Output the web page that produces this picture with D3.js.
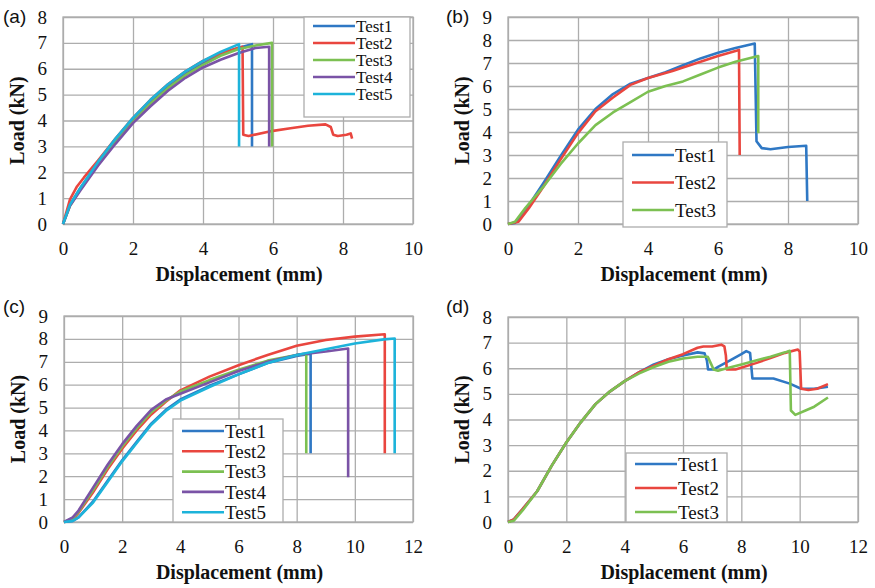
<!DOCTYPE html>
<html>
<head>
<meta charset="utf-8">
<script src="https://cdn.jsdelivr.net/npm/d3@7"></script>
<style>
  body { margin: 0; background: #fff; }
  svg { display: block; }
</style>
</head>
<body>
<svg id="chart" width="875" height="588"></svg>
<script>
// ---- data (displacement mm, load kN) ----
const testNames = ["Test1", "Test2", "Test3", "Test4", "Test5"];
const testColors = ["#2f78c4", "#e9463f", "#7cc052", "#7a53a6", "#1db3da"];

// panel (a)
const a_test1 = [[0,0],[0.2,0.75],[0.5,1.4],[1,2.35],[1.5,3.2],[2,4.0],[2.5,4.7],[3,5.3],[3.5,5.8],[4,6.2],[4.5,6.55],[5,6.8],[5.4,6.95],[5.4,3.0]];
const a_test2 = [[0,0],[0.2,0.95],[0.4,1.45],[0.6,1.8],[1,2.45],[1.5,3.3],[2,4.1],[2.5,4.8],[3,5.4],[3.5,5.9],[4,6.3],[4.5,6.6],[5,6.8],[5.13,6.85],[5.15,3.45],[5.3,3.4],[6,3.6],[6.5,3.7],[7,3.8],[7.5,3.85],[7.65,3.75],[7.72,3.45],[7.85,3.4],[8.1,3.45],[8.22,3.5],[8.26,3.3]];
const a_test3 = [[0,0],[0.2,0.7],[0.5,1.35],[1,2.3],[1.5,3.15],[2,3.95],[2.5,4.65],[3,5.25],[3.5,5.75],[4,6.15],[4.5,6.5],[5,6.75],[5.5,6.9],[5.97,7.0],[5.97,3.0]];
const a_test4 = [[0,0],[0.2,0.7],[0.5,1.3],[1,2.25],[1.5,3.1],[2,3.9],[2.5,4.55],[3,5.15],[3.5,5.65],[4,6.05],[4.5,6.35],[5,6.6],[5.5,6.8],[5.89,6.85],[5.89,3.0]];
const a_test5 = [[0,0],[0.2,0.75],[0.5,1.4],[1,2.4],[1.5,3.3],[2,4.1],[2.5,4.8],[3,5.4],[3.5,5.9],[4,6.3],[4.5,6.65],[5.03,6.95],[5.03,3.0]];

// panel (b)
const b_test1 = [[0,0],[0.2,0.05],[0.5,0.6],[1,1.75],[1.5,2.95],[2,4.1],[2.5,5.0],[3,5.65],[3.5,6.1],[4,6.35],[4.5,6.6],[5,6.9],[5.5,7.2],[6,7.45],[6.5,7.65],[7.05,7.85],[7.1,3.6],[7.25,3.3],[7.5,3.25],[8,3.35],[8.52,3.4],[8.55,1.0]];
const b_test2 = [[0,0],[0.3,0.1],[0.6,0.7],[1,1.6],[1.5,2.8],[2,3.95],[2.5,4.9],[3,5.5],[3.5,6.05],[4,6.35],[4.7,6.65],[5,6.8],[5.5,7.05],[6,7.3],[6.6,7.57],[6.62,3.0]];
const b_test3 = [[0,0],[0.2,0.1],[0.5,0.7],[1,1.6],[1.5,2.6],[2,3.5],[2.5,4.3],[3,4.85],[3.5,5.3],[4,5.75],[4.5,6.0],[5,6.2],[5.5,6.5],[6,6.8],[6.5,7.05],[7.15,7.3],[7.15,3.95]];

// panel (c)
const c_test1 = [[0,0],[0.3,0.05],[0.5,0.2],[1,0.9],[1.5,1.8],[2,2.7],[2.5,3.5],[3,4.3],[3.5,4.9],[4,5.35],[5,5.95],[6,6.45],[7,6.95],[8,7.25],[8.48,7.35],[8.48,3.0]];
const c_test2 = [[0,0],[0.3,0.1],[0.5,0.4],[1,1.3],[1.5,2.3],[2,3.2],[2.5,4.0],[3,4.7],[3.5,5.25],[4,5.75],[5,6.35],[6,6.85],[7,7.3],[8,7.7],[9,7.95],[10,8.1],[11.03,8.2],[11.03,3.0]];
const c_test3 = [[0,0],[0.3,0.15],[0.5,0.45],[1,1.4],[1.5,2.4],[2,3.3],[2.5,4.1],[3,4.8],[3.5,5.3],[4,5.7],[5,6.2],[6,6.65],[7,7.05],[8,7.3],[8.33,7.35],[8.33,3.0]];
const c_test4 = [[0,0],[0.3,0.2],[0.5,0.5],[1,1.5],[1.5,2.5],[2,3.4],[2.5,4.2],[3,4.9],[3.5,5.35],[4,5.6],[5,6.1],[6,6.6],[7,7.0],[8,7.3],[9,7.45],[9.77,7.58],[9.77,1.95]];
const c_test5 = [[0,0],[0.3,0.05],[0.5,0.2],[1,0.85],[1.5,1.75],[2,2.65],[2.5,3.45],[3,4.25],[3.5,4.85],[4,5.3],[5,5.9],[6,6.45],[7,6.95],[8,7.3],[9,7.55],[10,7.8],[11,7.98],[11.37,8.02],[11.37,3.0]];

// panel (d)
const d_test1 = [[0,0],[0.2,0.1],[0.5,0.5],[1,1.2],[1.5,2.2],[2,3.1],[2.5,3.9],[3,4.6],[3.5,5.1],[4,5.5],[4.5,5.85],[5,6.15],[5.5,6.35],[6,6.5],[6.5,6.62],[6.74,6.58],[6.82,6.3],[6.86,5.95],[7.05,5.95],[7.2,6.05],[7.6,6.3],[8.0,6.55],[8.17,6.67],[8.3,6.6],[8.38,5.6],[8.7,5.6],[9.1,5.6],[9.66,5.4],[10.05,5.2],[10.5,5.2],[10.97,5.28]];
const d_test2 = [[0,0],[0.2,0.1],[0.5,0.5],[1,1.2],[1.5,2.2],[2,3.1],[2.5,3.9],[3,4.6],[3.5,5.1],[4,5.5],[4.5,5.85],[5,6.1],[5.5,6.35],[6,6.55],[6.5,6.8],[6.7,6.85],[7.0,6.85],[7.31,6.92],[7.42,6.85],[7.47,6.5],[7.5,5.95],[7.8,5.95],[8.5,6.2],[9,6.4],[9.5,6.6],[9.94,6.73],[10.0,6.65],[10.05,5.2],[10.3,5.15],[10.6,5.2],[10.97,5.38]];
const d_test3 = [[0,0],[0.2,0.05],[0.5,0.45],[1,1.2],[1.5,2.2],[2,3.1],[2.5,3.9],[3,4.6],[3.5,5.1],[4,5.5],[4.5,5.8],[5,6.05],[5.5,6.25],[6,6.38],[6.5,6.45],[6.85,6.45],[6.95,6.2],[7.05,5.95],[7.2,5.9],[7.5,6.0],[8,6.15],[8.5,6.3],[9,6.45],[9.5,6.62],[9.66,6.68],[9.7,4.35],[9.85,4.18],[10.2,4.35],[10.5,4.5],[10.97,4.86]];

const panels = [
  { tag: "(a)", tagX: 3, tagY: 23, left: 63, right: 413, top: 17, bottom: 224, xMax: 10, yMax: 8,
    series: [a_test1, a_test2, a_test3, a_test4, a_test5],
    legend: { x: 304, y: 17, w: 106, h: 100, row0: 26, dy: 17, font: 17 } },
  { tag: "(b)", tagX: 446, tagY: 23, left: 508, right: 858, top: 17, bottom: 224, xMax: 10, yMax: 9,
    series: [b_test1, b_test2, b_test3],
    legend: { x: 623, y: 142, w: 104, h: 85, row0: 155, dy: 27.5, font: 19 } },
  { tag: "(c)", tagX: 3, tagY: 313, left: 64, right: 413, top: 316, bottom: 522, xMax: 12, yMax: 9,
    series: [c_test1, c_test2, c_test3, c_test4, c_test5],
    legend: { x: 173, y: 419, w: 110, h: 103, row0: 431, dy: 20.3, font: 19 } },
  { tag: "(d)", tagX: 446, tagY: 313, left: 508, right: 858, top: 317, bottom: 522, xMax: 12, yMax: 8,
    series: [d_test1, d_test2, d_test3],
    legend: { x: 626, y: 453, w: 101, h: 69, row0: 464, dy: 24, font: 19 } }
];

const svg = d3.select("#chart");
const serif = "'Liberation Serif', 'Times New Roman', serif";
const gridColor = "#adadad";

panels.forEach((p) => {
  const x = d3.scaleLinear().domain([0, p.xMax]).range([p.left, p.right]);
  const y = d3.scaleLinear().domain([0, p.yMax]).range([p.bottom, p.top]);
  const g = svg.append("g");

  // grid + ticks
  const gx = g.append("g")
    .attr("transform", `translate(0,${p.bottom})`)
    .call(d3.axisBottom(x).ticks(p.xMax / 2).tickSize(-(p.bottom - p.top)).tickPadding(18).tickFormat(d3.format("d")));
  const gy = g.append("g")
    .attr("transform", `translate(${p.left},0)`)
    .call(d3.axisLeft(y).ticks(p.yMax).tickSize(-(p.right - p.left)).tickPadding(16).tickFormat(d3.format("d")));
  [gx, gy].forEach((ax) => {
    ax.select(".domain").remove();
    ax.selectAll(".tick line").attr("stroke", gridColor).attr("stroke-width", 1.3);
    ax.selectAll(".tick text").attr("fill", "#111").style("font-family", serif).style("font-size", "19px");
  });

  // plot border
  g.append("rect")
    .attr("x", p.left).attr("y", p.top)
    .attr("width", p.right - p.left).attr("height", p.bottom - p.top)
    .attr("fill", "none").attr("stroke", gridColor).attr("stroke-width", 1.3);

  // curves
  const line = d3.line().x((d) => x(d[0])).y((d) => y(d[1]));
  p.series.forEach((s, i) => {
    g.append("path").datum(s)
      .attr("fill", "none")
      .attr("stroke", testColors[i])
      .attr("stroke-width", 2.6)
      .attr("stroke-linejoin", "round")
      .attr("d", line);
  });

  // legend
  const L = p.legend;
  const lg = g.append("g");
  lg.append("rect")
    .attr("x", L.x).attr("y", L.y).attr("width", L.w).attr("height", L.h)
    .attr("fill", "#fff").attr("stroke", gridColor).attr("stroke-width", 1.3);
  p.series.forEach((s, i) => {
    const ly = L.row0 + i * L.dy;
    lg.append("line")
      .attr("x1", L.x + 9).attr("x2", L.x + 51).attr("y1", ly).attr("y2", ly)
      .attr("stroke", testColors[i]).attr("stroke-width", 2.6);
    lg.append("text")
      .attr("x", L.x + 52).attr("y", ly).attr("dy", "0.35em")
      .style("font-family", serif).style("font-size", L.font + "px").attr("fill", "#111")
      .text(testNames[i]);
  });

  // axis titles
  g.append("text")
    .attr("x", (p.left + p.right) / 2 + 1).attr("y", p.bottom + 57)
    .attr("text-anchor", "middle")
    .style("font-family", serif).style("font-size", "20px").style("font-weight", "bold").attr("fill", "#111")
    .text("Displacement (mm)");
  g.append("text")
    .attr("transform", `translate(${p.left - 46},${(p.top + p.bottom) / 2}) rotate(-90)`)
    .attr("text-anchor", "middle").attr("dy", "0.35em")
    .style("font-family", serif).style("font-size", "20px").style("font-weight", "bold").attr("fill", "#111")
    .text("Load (kN)");

  // panel tag
  g.append("text")
    .attr("x", p.tagX).attr("y", p.tagY)
    .style("font-family", "'Liberation Sans', Arial, sans-serif").style("font-size", "19px").attr("fill", "#111")
    .text(p.tag);
});
</script>
</body>
</html>
